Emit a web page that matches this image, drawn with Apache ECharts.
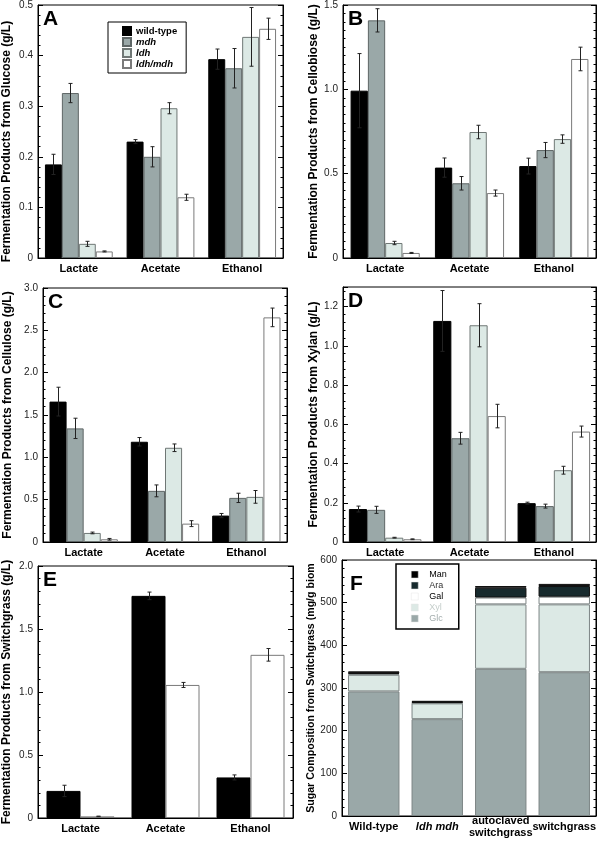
<!DOCTYPE html>
<html>
<head>
<meta charset="utf-8">
<script src="https://cdn.jsdelivr.net/npm/echarts@6/dist/echarts.min.js"></script>
<style>html,body{margin:0;padding:0;background:#fff}#c{width:600px;height:842px}</style>
</head>
<body>
<div id="c"></div>
<script>
// ---------- data ----------
const products = ['Lactate', 'Acetate', 'Ethanol'];
const strains = ['wild-type', 'mdh', 'ldh', 'ldh/mdh'];
const switchStrains = ['wild-type', 'ldh/mdh'];

// rows: wild-type, mdh, ldh, ldh/mdh ; columns: Lactate, Acetate, Ethanol
const glucoseMeans = [[0.185, 0.230, 0.393], [0.326, 0.200, 0.375], [0.028, 0.296, 0.437], [0.013, 0.120, 0.453]];
const glucoseErrs  = [[0.020, 0.004, 0.020], [0.019, 0.020, 0.039], [0.005, 0.011, 0.058], [0.001, 0.006, 0.021]];

const cellobioseMeans = [[0.992, 0.536, 0.545], [1.409, 0.443, 0.640], [0.089, 0.747, 0.705], [0.030, 0.385, 1.180]];
const cellobioseErrs  = [[0.220, 0.057, 0.047], [0.069, 0.040, 0.045], [0.010, 0.040, 0.025], [0.003, 0.018, 0.070]];

const celluloseMeans = [[1.658, 1.184, 0.312], [1.342, 0.604, 0.521], [0.107, 1.113, 0.533], [0.032, 0.217, 2.653]];
const celluloseErrs  = [[0.170, 0.050, 0.025], [0.120, 0.070, 0.055], [0.010, 0.045, 0.075], [0.010, 0.035, 0.110]];

const xylanMeans = [[0.168, 1.127, 0.198], [0.164, 0.529, 0.183], [0.022, 1.105, 0.366], [0.014, 0.642, 0.563]];
const xylanErrs  = [[0.015, 0.155, 0.005], [0.018, 0.030, 0.010], [0.002, 0.110, 0.020], [0.002, 0.060, 0.028]];

// rows: wild-type, ldh/mdh
const switchgrassMeans = [[0.215, 1.763, 0.322], [0.013, 1.056, 1.295]];
const switchgrassErrs  = [[0.045, 0.030, 0.020], [0.002, 0.020, 0.050]];

const biomassSamples = ['Wild-type', 'ldh mdh', 'autoclaved\nswitchgrass', 'switchgrass'];
const sugarGlc = [292, 227, 345, 337];
const sugarXyl = [39, 37, 151, 159];
const sugarGal = [2, 1, 16, 18];
const sugarAra = [2, 2, 23, 25];
const sugarMan = [4, 3, 4, 5];
const sugarNames = ['Man', 'Ara', 'Gal', 'Xyl', 'Glc'];

// ---------- styles ----------
const FONT = '"Liberation Sans", Arial, Helvetica, sans-serif';
const strainColors = {'wild-type': '#000000', 'mdh': '#9aa8a8', 'ldh': '#dce9e5', 'ldh/mdh': '#ffffff'};
const strainBorders = {'wild-type': '#000000', 'mdh': '#5e6666', 'ldh': '#6f7775', 'ldh/mdh': '#7a7a7a'};
const sugarColors = {Man: '#000000', Ara: '#172a2d', Gal: '#ffffff', Xyl: '#dce9e5', Glc: '#9aa8a8'};
const sugarText = {Man: '#000000', Ara: '#333333', Gal: '#000000', Xyl: '#c4cdca', Glc: '#a3adad'};

const panels = [
  {letter: 'A', grid: {left: 38, top: 5, width: 245, height: 253}, title: 'Fermentation Products from Glucose (g/L)', nameGap: 25, namePad: [0, 20, 0, 0],
   max: 0.5, interval: 0.1, minor: 5, means: glucoseMeans, errs: glucoseErrs, names: strains, gap: 0.17},
  {letter: 'B', grid: {left: 343, top: 5, width: 253, height: 253}, title: 'Fermentation Products from Cellobiose (g/L)', nameGap: 23, namePad: 0,
   max: 1.5, interval: 0.5, minor: 10, means: cellobioseMeans, errs: cellobioseErrs, names: strains, gap: 0.18},
  {letter: 'C', grid: {left: 43, top: 288, width: 244, height: 254}, title: 'Fermentation Products from Cellulose (g/L)', nameGap: 29, namePad: 0,
   max: 3.0, interval: 0.5, minor: 5, means: celluloseMeans, errs: celluloseErrs, names: strains, gap: 0.16},
  {letter: 'D', grid: {left: 343, top: 287, width: 253, height: 255}, title: 'Fermentation Products from Xylan (g/L)', nameGap: 23, namePad: 0,
   max: 1.3, interval: 0.2, minor: 5, means: xylanMeans, errs: xylanErrs, names: strains, gap: 0.14},
  {letter: 'E', grid: {left: 38, top: 566, width: 255, height: 252}, title: 'Fermentation Products from Switchgrass (g/L)', nameGap: 25, namePad: 0,
   max: 2.0, interval: 0.5, minor: 5, means: switchgrassMeans, errs: switchgrassErrs, names: switchStrains, gap: 0.2}
];

const grids = [], xAxes = [], yAxes = [], series = [], graphics = [];

function yAxisPair(gi, p, isF) {
  const common = {
    gridIndex: gi, type: 'value', min: 0, max: p.max, interval: p.interval,
    axisLine: {show: true, lineStyle: {color: '#000', width: 1}},
    axisTick: {show: true, inside: true, length: 5, lineStyle: {color: '#000', width: 1}},
    minorTick: {show: true, splitNumber: p.minor, length: 2.5, lineStyle: {color: '#000', width: 1}},
    splitLine: {show: false}, minorSplitLine: {show: false}
  };
  const rem = p.max / p.interval;
  yAxes.push(Object.assign({}, common, {
    position: 'left',
    name: p.title, nameLocation: 'middle', nameGap: p.nameGap, nameRotate: 90,
    nameTextStyle: {fontFamily: FONT, fontWeight: 'bold', fontSize: isF ? 10.6 : 12, color: '#000', padding: p.namePad || 0},
    nameTruncate: isF ? {maxWidth: p.grid.height, ellipsis: ''} : undefined,
    axisLabel: {show: true, margin: 5, fontFamily: FONT, fontSize: 10, color: '#222',
      showMaxLabel: Math.abs(rem - Math.round(rem)) < 1e-6,
      formatter: v => isF ? String(v) : (v === 0 ? '0' : v.toFixed(1))}
  }));
  yAxes.push(Object.assign({}, common, {position: 'right', axisLabel: {show: false}}));
}

panels.forEach((p, gi) => {
  grids.push(Object.assign({show: true, borderColor: '#000', borderWidth: 1, backgroundColor: 'transparent'}, p.grid));
  xAxes.push({
    gridIndex: gi, type: 'category', data: products,
    axisLine: {show: true, lineStyle: {color: '#000'}}, axisTick: {show: false},
    axisLabel: {interval: 0, margin: 5, fontFamily: FONT, fontWeight: 'bold', fontSize: 11, color: '#000'}
  });
  yAxisPair(gi, p, false);
  const n = p.names.length;
  p.names.forEach((nm, si) => {
    series.push({
      type: 'bar', name: nm, xAxisIndex: gi, yAxisIndex: 2 * gi,
      data: p.means[si], barGap: '0%', barCategoryGap: Math.round(p.gap * 100) + '%',
      itemStyle: {color: strainColors[nm], borderColor: strainBorders[nm], borderWidth: 1},
      silent: true, animation: false
    });
  });
  const edata = [];
  p.means.forEach((row, si) => row.forEach((v, ci) => edata.push([ci, v, p.errs[si][ci], si])));
  const gap = p.gap;
  series.push({
    type: 'custom', xAxisIndex: gi, yAxisIndex: 2 * gi, z: 5, silent: true, clip: false, animation: false,
    data: edata,
    renderItem: (params, api) => {
      const ci = api.value(0), v = api.value(1), e = api.value(2), si = api.value(3);
      const band = api.size([1, 0])[0];
      const inner = band * (1 - gap);
      const bw = inner / n;
      const c = api.coord([ci, v]);
      const x = Math.round(c[0] - inner / 2 + bw * (si + 0.5)) + 0.5;
      const yt = api.coord([ci, v + e])[1];
      const yb = api.coord([ci, Math.max(0, v - e)])[1];
      const st = {stroke: '#222', lineWidth: 1};
      return {type: 'group', children: [
        {type: 'line', shape: {x1: x, y1: yt, x2: x, y2: yb}, style: st},
        {type: 'line', shape: {x1: x - 2, y1: yt, x2: x + 2, y2: yt}, style: st},
        {type: 'line', shape: {x1: x - 2, y1: yb, x2: x + 2, y2: yb}, style: st}
      ]};
    }
  });
  graphics.push({type: 'text', left: p.grid.left + 5, top: p.grid.top + 4,
    style: {text: p.letter, font: 'bold 21px ' + FONT, fill: '#000'}});
});

// ---------- panel F ----------
const fp = {letter: 'F', grid: {left: 342, top: 560, width: 254, height: 256},
  title: 'Sugar Composition from Switchgrass (mg/g biomass)', nameGap: 23, max: 600, interval: 100, minor: 5};
grids.push(Object.assign({show: true, borderColor: '#000', borderWidth: 1, backgroundColor: 'transparent'}, fp.grid));
xAxes.push({
  gridIndex: 5, type: 'category', data: biomassSamples,
  axisLine: {show: true, lineStyle: {color: '#000'}}, axisTick: {show: false},
  axisLabel: {interval: 0, margin: 11, verticalAlign: 'middle', fontFamily: FONT, fontWeight: 'bold', fontSize: 11, color: '#000', lineHeight: 12,
    formatter: v => v === 'ldh mdh' ? '{i|' + v + '}' : v,
    rich: {i: {fontFamily: FONT, fontWeight: 'bold', fontStyle: 'italic', fontSize: 11, color: '#000'}}}
});
yAxisPair(5, fp, true);
const sugarData = {Glc: sugarGlc, Xyl: sugarXyl, Gal: sugarGal, Ara: sugarAra, Man: sugarMan};
['Glc', 'Xyl', 'Gal', 'Ara', 'Man'].forEach(nm => {
  series.push({
    type: 'bar', name: nm, stack: 'sugar', xAxisIndex: 5, yAxisIndex: 10, data: sugarData[nm],
    barCategoryGap: '19%',
    itemStyle: {color: sugarColors[nm], borderColor: nm === 'Man' || nm === 'Ara' ? '#111' : '#7d8585', borderWidth: 1},
    silent: true, animation: false
  });
});
graphics.push({type: 'text', left: fp.grid.left + 8, top: fp.grid.top + 14,
  style: {text: 'F', font: 'bold 21px ' + FONT, fill: '#000'}});

const legends = [
  {
    left: 108, top: 22, orient: 'vertical', selectedMode: false,
    data: strains, icon: 'rect', itemWidth: 8, itemHeight: 8, itemGap: 1,
    padding: [4, 9, 4, 14], borderColor: '#000', borderWidth: 1, backgroundColor: '#fff',
    formatter: name => name === 'wild-type' ? name : '{i|' + name + '}',
    textStyle: {fontFamily: FONT, fontWeight: 'bold', fontSize: 9.5, lineHeight: 9, color: '#000',
      rich: {i: {fontFamily: FONT, fontWeight: 'bold', fontStyle: 'italic', fontSize: 9.5, lineHeight: 9, color: '#000'}}}
  },
  {
    left: 396, top: 564, orient: 'vertical', selectedMode: false,
    data: sugarNames.map(nm => ({name: nm, textStyle: {color: sugarText[nm]}})),
    icon: 'rect', itemWidth: 7, itemHeight: 7, itemGap: 2,
    itemStyle: {borderColor: '#e4e4e4', borderWidth: 0.5},
    padding: [6, 12, 6, 15], borderColor: '#000', borderWidth: 1.5, backgroundColor: '#fff',
    textStyle: {fontFamily: FONT, fontSize: 9, lineHeight: 8, padding: [0, 0, 0, 6]}
  }
];

const chart = echarts.init(document.getElementById('c'), null, {renderer: 'canvas'});
chart.setOption({
  animation: false,
  backgroundColor: '#fff',
  grid: grids, xAxis: xAxes, yAxis: yAxes, series: series, legend: legends, graphic: graphics
});
</script>
</body>
</html>
